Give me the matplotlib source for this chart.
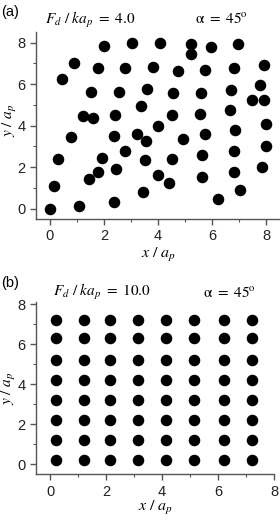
import numpy as np
import matplotlib
matplotlib.use("Agg")
import matplotlib.pyplot as plt
from matplotlib.ticker import MultipleLocator

plt.rcParams["font.family"] = ["Liberation Sans", "DejaVu Sans"]
plt.rcParams["mathtext.fontset"] = "stix"

# ---- panel (a): disordered particle positions ----
x_a = [2.02, 3.05, 4.09, 5.23, 5.22, 5.94, 6.95, 0.89, 1.78, 2.79, 3.82, 4.75,
       5.72, 6.81, 7.92, 0.45, 1.53, 2.57, 3.60, 4.55, 5.58, 6.68, 7.77, 7.47,
       7.92, 3.38, 1.22, 1.61, 2.40, 4.50, 5.56, 6.64, 4.01, 6.84, 8.00, 0.80,
       2.38, 3.24, 3.57, 4.91, 5.75, 7.97, 2.79, 6.80, 0.31, 1.94, 3.50, 4.52,
       5.63, 2.44, 1.79, 1.45, 4.01, 4.42, 5.63, 6.80, 7.84, 0.16, 3.43, 7.02,
       6.22, 2.39, 1.08, 0.01]
y_a = [7.85, 7.97, 7.97, 7.92, 7.45, 7.77, 7.92, 7.02, 6.78, 6.78, 6.81, 6.65,
       6.68, 6.79, 6.94, 6.23, 5.63, 5.63, 5.75, 5.56, 5.58, 5.72, 5.95, 5.23,
       5.24, 4.94, 4.44, 4.36, 4.52, 4.49, 4.55, 4.74, 3.97, 3.81, 4.07, 3.43,
       3.51, 3.57, 3.24, 3.37, 3.61, 3.03, 2.79, 2.79, 2.39, 2.44, 2.36, 2.40,
       2.58, 1.92, 1.78, 1.44, 1.60, 1.24, 1.54, 1.76, 2.02, 1.07, 0.78, 0.88,
       0.47, 0.30, 0.14, 0.00]

# ---- panel (b): ordered lattice ----
x_b_cols = [0.2, 1.2, 2.15, 3.15, 4.15, 5.15, 6.2, 7.2]
y_b_rows = [0.2, 1.2, 2.2, 3.2, 4.2, 5.2, 6.3, 7.2]

ticks = [0, 2, 4, 6, 8]
spine_color = "#555555"


def _style_axis(ax, ylabel_x=-0.075, ylabel_y=0.5, xlabel_pad=2):
    for side in ["top", "right"]:
        ax.spines[side].set_visible(False)
    for side in ["left", "bottom"]:
        ax.spines[side].set_color(spine_color)
        ax.spines[side].set_linewidth(1.0)
    ax.set_xticks(ticks)
    ax.set_yticks(ticks)
    ax.xaxis.set_minor_locator(MultipleLocator(1))
    ax.yaxis.set_minor_locator(MultipleLocator(1))
    ax.tick_params(which="major", direction="out", length=4, width=1.0,
                   color=spine_color, labelsize=10.5, labelcolor="#222222")
    ax.tick_params(which="minor", direction="out", length=2, width=0.8,
                   color=spine_color)
    ax.set_xlabel(r"$x\ /\ a_p$", fontsize=11.5, labelpad=xlabel_pad)
    ax.set_ylabel(r"$y\ /\ a_p$", fontsize=11)
    ax.yaxis.set_label_coords(ylabel_x, ylabel_y)


fig = plt.figure(figsize=(2.8, 5.2), dpi=100)

ax1 = fig.add_axes([0.129, 0.579, 0.871, 0.359])
ax1.plot(x_a, y_a, "o", color="black", markersize=7.3, clip_on=False)
ax1.set_xlim(-0.5, 8.5)
ax1.set_ylim(-0.5, 8.5)
_style_axis(ax1, ylabel_x=-0.072, ylabel_y=0.53)

ax2 = fig.add_axes([0.129, 0.088, 0.85, 0.331])
gx, gy = np.meshgrid(x_b_cols, y_b_rows)
ax2.plot(gx.ravel(), gy.ravel(), "o", color="black", markersize=7.3, clip_on=False)
ax2.set_xlim(-0.5, 8.0)
ax2.set_ylim(-0.5, 8.1)
_style_axis(ax2, ylabel_x=-0.075, xlabel_pad=0)

# panel labels and parameters
fig.text(0.005, 0.977, "(a)", fontsize=10.5, va="center")
fig.text(0.16, 0.962, r"$F_d\ /\ ka_p\ =\ 4.0$", fontsize=11, va="center")
fig.text(0.695, 0.965, r"$\mathrm{\alpha}\ =\ 45^{\mathrm{o}}$", fontsize=11, va="center")

fig.text(0.005, 0.456, "(b)", fontsize=10.5, va="center")
fig.text(0.19, 0.438, r"$F_d\ /\ ka_p\ =\ 10.0$", fontsize=11, va="center")
fig.text(0.725, 0.438, r"$\mathrm{\alpha}\ =\ 45^{\mathrm{o}}$", fontsize=11, va="center")

fig.savefig("out.png", dpi=100)
plt.close(fig)
